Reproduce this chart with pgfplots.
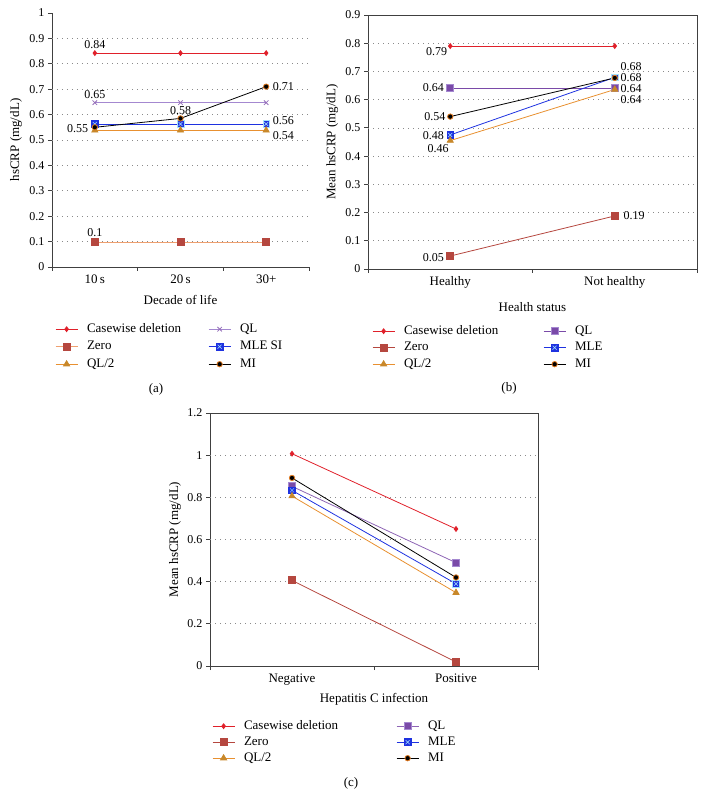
\documentclass[border=0pt]{standalone}
\usepackage{fontspec}
\setmainfont{Liberation Serif}
\usepackage{pgfplots}
\pgfplotsset{compat=1.18}

\definecolor{cwred}{HTML}{E0202A}
\definecolor{zerobrown}{HTML}{B5473F}
\definecolor{zeroline}{HTML}{EFA070}
\definecolor{qlhalfline}{HTML}{E89030}
\definecolor{qlhalfmark}{HTML}{C8882A}
\definecolor{qlpurple}{HTML}{7A4AA8}
\definecolor{qllight}{HTML}{A488D0}
\definecolor{mleblue}{HTML}{1E32E0}
\definecolor{miorange}{HTML}{E07A20}
\definecolor{gridgray}{HTML}{8A8A8A}
\definecolor{axisgray}{HTML}{404040}

\pgfdeclareplotmark{mlesq}{%
  \pgfpathrectangle{\pgfqpoint{-\pgfplotmarksize}{-\pgfplotmarksize}}{\pgfqpoint{2\pgfplotmarksize}{2\pgfplotmarksize}}%
  \pgfusepathqfillstroke
  \pgfsetstrokecolor{cyan!35!white}%
  \pgfsetlinewidth{0.5pt}%
  \pgfpathmoveto{\pgfqpoint{-0.6\pgfplotmarksize}{-0.6\pgfplotmarksize}}%
  \pgfpathlineto{\pgfqpoint{0.6\pgfplotmarksize}{0.6\pgfplotmarksize}}%
  \pgfpathmoveto{\pgfqpoint{-0.6\pgfplotmarksize}{0.6\pgfplotmarksize}}%
  \pgfpathlineto{\pgfqpoint{0.6\pgfplotmarksize}{-0.6\pgfplotmarksize}}%
  \pgfusepathqstroke
}

\newcommand{\fs}{\fontsize{12}{14}\selectfont}
\newcommand{\fl}{\fontsize{13}{15}\selectfont}
\tikzset{dl/.style={font=\fs, inner sep=0.5pt}}

\pgfplotsset{
  panel/.style={
    scale only axis,
    anchor=south west,
    tick align=outside,
    major tick length=4pt,
    tick style={axisgray, line width=0.8pt},
    axis line style={axisgray, line width=0.9pt},
    x tick label as interval,
    yticklabel style={font=\fs},
    xticklabel style={font=\fl},
    /pgf/number format/assume math mode=true,
    label style={font=\fl},
    xlabel style={anchor=center},
    ylabel style={anchor=center},
    extra y tick labels={},
    extra y tick style={grid=major, major tick length=0pt},
    major grid style={gridgray, line width=0.7pt, dash pattern=on 0.7pt off 4.3pt},
    legend columns=2,
    legend cell align=left,
    legend style={draw=none, fill=none, inner sep=0pt, anchor=north west, font=\fl,
      nodes={inner sep=2pt, text height=9pt, text depth=3pt},
      /tikz/every odd column/.append style={column sep=7pt}},
    legend image code/.code={\draw[mark repeat=2,mark phase=2,##1] plot coordinates {(0pt,0pt) (11pt,0pt) (22pt,0pt)};},
    every axis plot/.append style={line width=0.8pt},
  },
  cw/.style={cwred, mark=diamond*, mark size=2.4pt, mark options={solid, fill=cwred, draw=cwred}},
  zr/.style={zerobrown, mark=square*, mark size=3.5pt, mark options={solid, fill=zerobrown, draw=zerobrown}},
  qh/.style={qlhalfline, mark=triangle*, mark size=3.5pt, mark options={solid, fill=qlhalfmark, draw=qlhalfmark}},
  ql/.style={qlpurple, mark=square*, mark size=3.5pt, mark options={solid, fill=qlpurple, draw=qllight}},
  mle/.style={mleblue, mark=mlesq, mark size=3.3pt, mark options={solid, fill=mleblue, draw=mleblue}},
  mi/.style={black, mark=*, mark size=2.7pt, mark options={solid, fill=black, draw=miorange}},
}

\begin{document}
\begin{tikzpicture}
\path[use as bounding box] (0pt,0pt) rectangle (706pt,797pt);

% ---------------- (a)
\begin{axis}[panel, at={(52pt,530pt)}, width=257pt, height=254pt,
  xmin=-0.5, xmax=2.5, ymin=0, ymax=1,
  axis x line*=bottom, axis y line*=left,
  xtick={-0.5,0.5,1.5,2.5}, xticklabels={10\,s,20\,s,30+},
  ytick={0,0.1,0.2,0.3,0.4,0.5,0.6,0.7,0.8,0.9,1},
  extra y ticks={0.1,0.2,0.3,0.4,0.5,0.6,0.7,0.8,0.9},
  xlabel={Decade of life}, ylabel={hsCRP (mg/dL)},
  xlabel style={at={(axis description cs:0.5,-0.130)}},
  ylabel style={at={(axis description cs:-0.140,0.5)}},
  legend style={at={(axis description cs:0.0117,-0.2126)}, row sep=1.5pt,
    /tikz/every even column/.append style={column sep=25pt}},
]
\addplot[cw, draw=cwred] coordinates {(0,0.842) (1,0.842) (2,0.842)};
\addlegendentry{Casewise deletion}
\addplot[qllight, mark=x, mark size=3.2pt, mark options={solid, draw=qlpurple!80!white}] coordinates {(0,0.647) (1,0.647) (2,0.647)};
\addlegendentry{QL}
\addplot[zr, draw=zeroline] coordinates {(0,0.097) (1,0.097) (2,0.097)};
\addlegendentry{Zero}
\addplot[mle] coordinates {(0,0.563) (1,0.563) (2,0.563)};
\addlegendentry{MLE SI}
\addplot[qh] coordinates {(0,0.538) (1,0.538) (2,0.538)};
\addlegendentry{QL/2}
\addplot[mi] coordinates {(0,0.550) (1,0.585) (2,0.710)};
\addlegendentry{MI}
\node[dl, anchor=south] at (axis cs:0,0.858) {0.84};
\node[dl, anchor=south] at (axis cs:0,0.658) {0.65};
\node[dl, anchor=east] at (axis cs:-0.07,0.546) {0.55};
\node[dl, anchor=south] at (axis cs:1,0.596) {0.58};
\node[dl, anchor=west] at (axis cs:2.07,0.712) {0.71};
\node[dl, anchor=west] at (axis cs:2.07,0.576) {0.56};
\node[dl, anchor=west] at (axis cs:2.07,0.516) {0.54};
\node[dl, anchor=south] at (axis cs:0,0.115) {0.1};
\end{axis}

% ---------------- (b)
\begin{axis}[panel, at={(368pt,528pt)}, width=329pt, height=254pt,
  xmin=-0.5, xmax=1.5, ymin=0, ymax=0.9,
  xtick pos=left, ytick pos=left,
  xtick={-0.5,0.5,1.5}, xticklabels={Healthy,Not healthy},
  ytick={0,0.1,0.2,0.3,0.4,0.5,0.6,0.7,0.8,0.9},
  extra y ticks={0.1,0.2,0.3,0.4,0.5,0.6,0.7,0.8},
  xlabel={Health status}, ylabel={Mean hsCRP (mg/dL)},
  xlabel style={at={(axis description cs:0.5,-0.150)}},
  ylabel style={at={(axis description cs:-0.109,0.5)}},
  legend style={at={(axis description cs:0.0122,-0.2126)}, row sep=0.5pt,
    /tikz/every even column/.append style={column sep=43pt}},
]
\addplot[cw] coordinates {(0,0.790) (1,0.790)};
\addlegendentry{Casewise deletion}
\addplot[ql] coordinates {(0,0.641) (1,0.641)};
\addlegendentry{QL}
\addplot[zr] coordinates {(0,0.046) (1,0.188)};
\addlegendentry{Zero}
\addplot[mle] coordinates {(0,0.475) (1,0.679)};
\addlegendentry{MLE}
\addplot[qh] coordinates {(0,0.455) (1,0.636)};
\addlegendentry{QL/2}
\addplot[mi] coordinates {(0,0.540) (1,0.677)};
\addlegendentry{MI}
\node[dl, anchor=east] at (axis cs:-0.015,0.770) {0.79};
\node[dl, anchor=east] at (axis cs:-0.035,0.641) {0.64};
\node[dl, anchor=east] at (axis cs:-0.025,0.540) {0.54};
\node[dl, anchor=east] at (axis cs:-0.035,0.473) {0.48};
\node[dl, anchor=east] at (axis cs:-0.005,0.427) {0.46};
\node[dl, anchor=west, inner sep=0pt] at (axis cs:1.035,0.718) {0.68};
\node[dl, anchor=west, inner sep=0pt] at (axis cs:1.035,0.677) {0.68};
\node[dl, anchor=west, inner sep=0pt] at (axis cs:1.035,0.639) {0.64};
\node[dl, anchor=west, inner sep=0pt] at (axis cs:1.035,0.600) {0.64};
\node[dl, anchor=east] at (axis cs:-0.035,0.040) {0.05};
\node[dl, anchor=west] at (axis cs:1.05,0.188) {0.19};
\end{axis}

% ---------------- (c)
\begin{axis}[panel, at={(210pt,131pt)}, width=328pt, height=253pt,
  xmin=-0.5, xmax=1.5, ymin=0, ymax=1.2,
  xtick pos=left, ytick pos=left,
  xtick={-0.5,0.5,1.5}, xticklabels={Negative,Positive},
  ytick={0,0.2,0.4,0.6,0.8,1,1.2},
  extra y ticks={0.2,0.4,0.6,0.8,1},
  xlabel={Hepatitis C infection}, ylabel={Mean hsCRP (mg/dL)},
  xlabel style={at={(axis description cs:0.5,-0.130)}},
  ylabel style={at={(axis description cs:-0.107,0.5)}},
  legend style={at={(axis description cs:0.0061,-0.2055)}, row sep=0pt,
    /tikz/every even column/.append style={column sep=56pt}},
]
\addplot[cw] coordinates {(0,1.007) (1,0.650)};
\addlegendentry{Casewise deletion}
\addplot[ql, qlpurple!85!white] coordinates {(0,0.852) (1,0.490)};
\addlegendentry{QL}
\addplot[zr] coordinates {(0,0.406) (1,0.019)};
\addlegendentry{Zero}
\addplot[mle] coordinates {(0,0.833) (1,0.390)};
\addlegendentry{MLE}
\addplot[qh] coordinates {(0,0.806) (1,0.348)};
\addlegendentry{QL/2}
\addplot[mi] coordinates {(0,0.892) (1,0.420)};
\addlegendentry{MI}
\end{axis}

\node[font=\fl] at (156pt,408pt) {(a)};
\node[font=\fl] at (509pt,409pt) {(b)};
\node[font=\fl] at (351pt,14pt) {(c)};
\end{tikzpicture}
\end{document}
